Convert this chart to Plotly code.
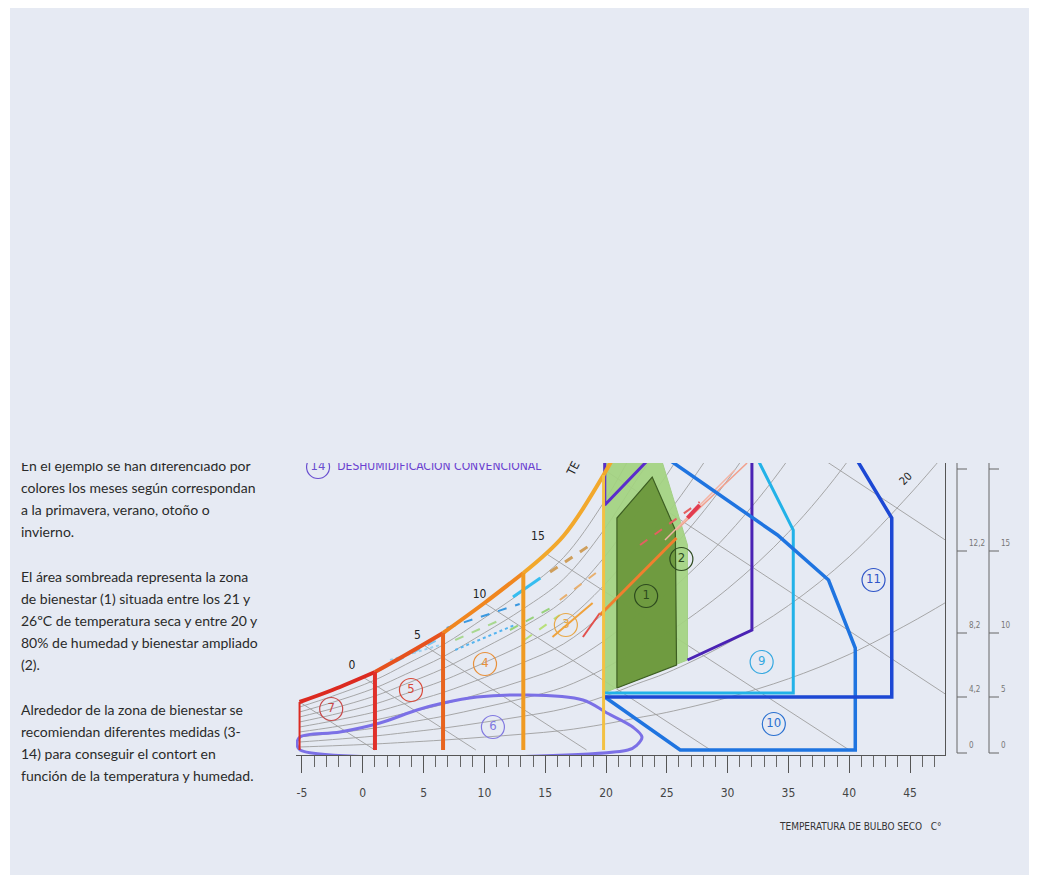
import plotly.graph_objects as go

# ---------------- data ----------------
# saturation curve (dry bulb C, humidity g/kg)
sat_T = [-5.2, -2.5, 1.0, 3.5, 6.6, 10.0, 13.2, 16.5, 19.8, 22.5, 25.0, 30.0, 35.0, 40.0, 45.0, 48.0]
sat_W = [2.5, 3.1, 4.0, 4.85, 5.95, 7.45, 8.95, 10.8, 13.85, 17.0, 19.8, 27.2, 36.6, 48.8, 64.5, 75.0]
rh_levels = [10, 20, 30, 40, 50, 60, 70, 80, 90]

# x axis ticks
x_tick_vals = [-5, 0, 5, 10, 15, 20, 25, 30, 35, 40, 45]
x_tick_text = ["-5", "0", "5", "10", "15", "20", "25", "30", "35", "40", "45"]

# wet bulb lines (start on saturation, end on base / right border)
wb_T_start = [-5.2, 0.0, 5.0, 10.0, 15.0, 20.0, 25.0]
wb_W_start = [2.5, 3.75, 5.35, 7.45, 9.95, 14.05, 19.8]
wb_T_end = [1.0, 9.3, 18.4, 28.6, 40.0, 47.9, 47.9]
wb_W_end = [0.1, 0.1, 0.1, 0.1, 0.1, 2.9, 10.6]
wb_labels = ["0", "5", "10", "15"]
wb_label_T = [-0.9, 4.5, 9.6, 14.4]
wb_label_W = [4.3, 5.8, 7.85, 10.75]

# winter-side zones along the saturation curve (7, 5, 4, 3)
zone_div_T = [-5.2, 1.0, 6.6, 13.2, 19.8]
zone_div_color = ["#dc2a20", "#e0302a", "#e8641e", "#f09a22", "#f3c143"]
zone_div_width = [2, 4, 4, 4, 3]
sat_seg_start_T = [-5.2, 1.0, 6.6, 13.2]
sat_seg_end_T = [1.0, 6.6, 13.2, 22.5]
sat_seg_color = ["#dc2a20", "#e6521e", "#f0861f", "#f2a82c"]

# comfort zones
zone2_T = [19.8, 19.8, 24.1, 24.7, 26.7, 26.7, 19.8]
zone2_W = [2.95, 15.5, 15.45, 14.35, 10.35, 4.6, 2.95]
zone1_T = [20.9, 20.9, 23.8, 25.7, 25.8, 20.9]
zone1_W = [3.2, 11.7, 13.75, 11.1, 4.35, 3.2]

# strategy zones (outlines)
zone6_T = [-5.16, -1.88, 1.41, 4.46, 6.6, 9.39, 13.17, 18.1, 20.08, 22.2, 22.96, 22.55, 21.8, -5.16, -5.41, -5.16]
zone6_W = [0.75, 1.0, 1.45, 2.1, 2.45, 2.75, 2.85, 2.6, 1.95, 1.25, 0.75, 0.35, 0.1, 0.1, 0.4, 0.75]
zone14_T = [19.9, 19.9, 24.8]
zone14_W = [15.5, 12.35, 15.45]
zone8_T = [26.7, 32.0, 32.0]
zone8_W = [4.6, 6.1, 15.5]
zone9_T = [19.9, 35.4, 35.4, 32.7, 31.8]
zone9_W = [2.95, 2.95, 11.1, 14.35, 15.45]
zone10_T = [23.2, 25.8, 34.1, 38.3, 40.5, 40.5, 26.1, 19.9]
zone10_W = [15.45, 14.35, 10.85, 8.6, 5.2, 0.1, 0.1, 2.75]
zone11_T = [19.9, 43.5, 43.5, 40.9, 39.8]
zone11_W = [2.75, 2.75, 11.7, 14.35, 15.45]

# monthly climate segments
month_T1 = [1.4, 6.9, 7.6, 12.35, 12.1, 15.6, 15.4, 18.1, 19.5, 22.8, 25.8, 24.85, 26.7,
            2.24, 7.6, 13.3, 16.2]
month_W1 = [4.1, 6.2, 5.1, 7.75, 6.1, 5.75, 9.0, 5.75, 6.85, 10.35, 11.1, 10.6, 11.7,
            4.6, 5.6, 5.6, 7.6]
month_T2 = [6.6, 12.9, 12.5, 14.6, 15.6, 18.9, 18.7, 19.5, 25.8, 27.7, 31.6, 30.6, 27.7,
            6.35, 11.3, 16.2, 19.5]
month_W2 = [5.75, 7.4, 6.35, 8.7, 7.25, 7.45, 10.35, 6.95, 10.7, 12.5, 14.45, 14.1, 12.35,
            5.35, 6.6, 6.85, 9.1]
month_color = ["#7cc6f0", "#3a98e0", "#55b4f0", "#36bdf0", "#98d27c", "#f0a23c", "#cf9f5c",
               "#e2504c", "#f07f2e", "#e46060", "#f2a08c", "#f4b4a4", "#e23c50",
               "#9ad0f0", "#a8d890", "#b8e07a", "#e8b070"]
month_dash = ["dash", "dash", "dot", "solid", "dash", "solid", "dash", "solid", "solid", "dash",
              "solid", "solid", "solid", "dot", "dash", "dash", "dash"]
month_width = [2, 2, 2, 3, 2, 2, 3, 2, 3, 2, 1.5, 1.5, 4, 2, 2, 2, 2]

# circled zone numbers
circ_text = ["1", "2", "3", "4", "5", "6", "7", "9", "10", "11", "14"]
circ_T = [23.3, 26.2, 16.7, 10.05, 3.96, 10.7, -2.6, 32.8, 33.8, 42.0, -3.68]
circ_W = [7.8, 9.65, 6.35, 4.4, 3.1, 1.25, 2.15, 4.5, 1.4, 8.6, 14.25]
circ_color = ["#2d4a1e", "#2d4a1e", "#e8a848", "#e8903a", "#d84a3a", "#8078e0", "#c84848",
              "#35a8e0", "#2a70d0", "#2f55c8", "#6a4fd0"]

# right-hand auxiliary scales
scale_tick_W = [-0.05, 2.75, 5.95, 10.05, 14.15]
scale_a_labels = ["0", "4,2", "8,2", "12,2", ""]
scale_b_labels = ["0", "5", "10", "15", ""]

# left text
paragraphs = [
    ["En el ejemplo se han diferenciado por",
     "colores los meses según correspondan",
     "a la primavera, verano, otoño o",
     "invierno."],
    ["El área sombreada representa la zona",
     "de bienestar (1) situada entre los 21 y",
     "26ºC de temperatura seca y entre 20 y",
     "80% de humedad y bienestar ampliado",
     "(2)."],
    ["Alrededor de la zona de bienestar se",
     "recomiendan diferentes medidas (3-",
     "14) para conseguir el contort en",
     "función de la temperatura y humedad."],
]

# ---------------- figure ----------------
FW, FH = 1037, 884
OFF = 8  # page offset of the figure inside the browser window
NARROW = "DejaVu Sans Condensed, Liberation Sans Narrow, Arial Narrow, sans-serif"
GRAY = "#9e9e9e"


def px_x(p):
    return (p - OFF) / FW


def px_y(p):
    return (FH - (p - OFF)) / FH


fig = go.Figure()


def line(x, y, color, width, dash="solid", shape="linear", fill=None, fillcolor=None):
    fig.add_trace(go.Scatter(x=x, y=y, mode="lines",
                             line=dict(color=color, width=width, dash=dash, shape=shape),
                             fill=fill, fillcolor=fillcolor,
                             hoverinfo="skip", showlegend=False))


# RH curves
for rh in rh_levels:
    line(sat_T, [w * rh / 100 for w in sat_W], GRAY, 0.9, shape="spline")
# wet bulb lines
for t0, w0, t1, w1 in zip(wb_T_start, wb_W_start, wb_T_end, wb_W_end):
    line([t0, t1], [w0, w1], GRAY, 0.9)

# comfort zones
line(zone2_T, zone2_W, "#a3cf86", 1, fill="toself", fillcolor="rgba(163,210,128,0.92)")
line(zone1_T, zone1_W, "#3d5e22", 1.2, fill="toself", fillcolor="rgba(108,152,60,0.95)")

# monthly segments
for t1, w1, t2, w2, c, d, wd in zip(month_T1, month_W1, month_T2, month_W2,
                                    month_color, month_dash, month_width):
    line([t1, t2], [w1, w2], c, wd, dash=d)

# strategy zones
line(zone6_T, zone6_W, "#7b70e6", 3, shape="spline")
line(zone14_T, zone14_W, "#5a2ccc", 3)
line(zone8_T, zone8_W, "#4a22b4", 3)
line(zone9_T, zone9_W, "#22b2e8", 3)
line(zone10_T, zone10_W, "#1f74e0", 3.5)
line(zone11_T, zone11_W, "#1d48d4", 3.5)

# saturation curve in zone colours
for ts, te, c in zip(sat_seg_start_T, sat_seg_end_T, sat_seg_color):
    a, b = sat_T.index(ts), sat_T.index(te)
    line(sat_T[a:b + 1], sat_W[a:b + 1], c, 4, shape="spline")
# vertical zone dividers
for t, c, wd in zip(zone_div_T, zone_div_color, zone_div_width):
    line([t, t], [0.1, sat_W[sat_T.index(t)]], c, wd)

# wet-bulb labels
fig.add_trace(go.Scatter(x=wb_label_T, y=wb_label_W, mode="text", text=wb_labels,
                         textfont=dict(family=NARROW, size=12, color="#222"),
                         hoverinfo="skip", showlegend=False))

# circled numbers
fig.add_trace(go.Scatter(x=circ_T, y=circ_W, mode="markers+text", text=circ_text,
                         textposition="middle center",
                         textfont=dict(family=NARROW, size=13, color=circ_color),
                         marker=dict(symbol="circle-open", size=23, color=circ_color,
                                     line=dict(width=1.2, color=circ_color)),
                         hoverinfo="skip", showlegend=False))
# zone 14 caption
fig.add_trace(go.Scatter(x=[-2.1], y=[14.25], mode="text",
                         text=["DESHUMIDIFICACION CONVENCIONAL"], textposition="middle right",
                         textfont=dict(family=NARROW, size=12, color="#6a3fd0"),
                         hoverinfo="skip", showlegend=False))

# right-hand scales (subplot 2)
for x0, labels in ((7, scale_a_labels), (39, scale_b_labels)):
    fig.add_trace(go.Scatter(x=[x0, x0], y=[scale_tick_W[0], 15.5], mode="lines",
                             line=dict(color="#666", width=1), xaxis="x2", yaxis="y2",
                             hoverinfo="skip", showlegend=False))
    tx, ty = [], []
    for w in scale_tick_W:
        tx += [x0, x0 + 10, None]
        ty += [w, w, None]
    fig.add_trace(go.Scatter(x=tx, y=ty, mode="lines", line=dict(color="#666", width=1),
                             xaxis="x2", yaxis="y2", hoverinfo="skip", showlegend=False))
    fig.add_trace(go.Scatter(x=[x0 + 12] * len(scale_tick_W), y=[w + 0.35 for w in scale_tick_W],
                             mode="text", text=labels, textposition="middle right",
                             textfont=dict(family=NARROW, size=8, color="#777"),
                             xaxis="x2", yaxis="y2", hoverinfo="skip", showlegend=False))

# left text (subplot 3, page-pixel units)
lx, ly, lt = [], [], []
row = 0
for para in paragraphs:
    for s in para:
        lx.append(21)
        ly.append(467 + row * 22.2)
        lt.append(s)
        row += 1
    row += 1
fig.add_trace(go.Scatter(x=lx, y=ly, mode="text", text=lt, textposition="middle right",
                         textfont=dict(family="Lato, Open Sans, sans-serif", size=14, color="#2a2a2a"),
                         xaxis="x3", yaxis="y3", hoverinfo="skip", showlegend=False))

ydom = [px_y(755), px_y(463)]
fig.update_layout(
    template="none",
    width=FW, height=FH,
    margin=dict(l=0, r=0, t=0, b=0),
    paper_bgcolor="white",
    plot_bgcolor="rgba(0,0,0,0)",
    showlegend=False,
    xaxis=dict(domain=[px_x(296), px_x(945)], range=[-5.493, 47.878],
               showline=True, linecolor="#555", linewidth=1, mirror=False,
               ticks="outside", tickvals=x_tick_vals, ticktext=x_tick_text,
               ticklen=17, tickwidth=1, tickcolor="#555",
               minor=dict(ticks="outside", dtick=1, ticklen=11, tickwidth=1, tickcolor="#666"),
               showgrid=False, zeroline=False, automargin=False,
               tickfont=dict(family=NARROW, size=12, color="#444"), ticklabelstandoff=10,
               fixedrange=True),
    yaxis=dict(domain=ydom, range=[-0.15, 14.45], side="right", showline=True,
               linecolor="#555", linewidth=1, ticks="", showticklabels=False,
               showgrid=False, zeroline=False, automargin=False, fixedrange=True),
    xaxis2=dict(domain=[px_x(950), px_x(1033)], range=[0, 83], visible=False, anchor="y2"),
    yaxis2=dict(domain=ydom, range=[-0.15, 14.45], visible=False, anchor="x2"),
    xaxis3=dict(domain=[0, px_x(295)], range=[OFF, 295], visible=False, anchor="y3"),
    yaxis3=dict(domain=[0, px_y(463)], range=[FH + OFF, 463], visible=False, anchor="x3"),
    shapes=[dict(type="rect", xref="paper", yref="paper", layer="below",
                 x0=px_x(10), x1=px_x(1033), y0=px_y(875), y1=px_y(8),
                 fillcolor="#E6EAF3", line=dict(width=0))],
    annotations=[
        dict(text="TEMPERATURA DE BULBO SECO &nbsp; C°", xref="paper", yref="paper",
             x=px_x(943), y=px_y(826), xanchor="right", yanchor="middle", showarrow=False,
             font=dict(family=NARROW, size=10, color="#333")),
        dict(text="TE", xref="paper", yref="paper", x=px_x(573), y=px_y(469),
             showarrow=False, textangle=-62, font=dict(family=NARROW, size=12, color="#222")),
        dict(text="20", xref="paper", yref="paper", x=px_x(918), y=px_y(478),
             showarrow=False, textangle=-45, font=dict(family=NARROW, size=11, color="#222")),
    ],
)

fig.write_html("out.html")
